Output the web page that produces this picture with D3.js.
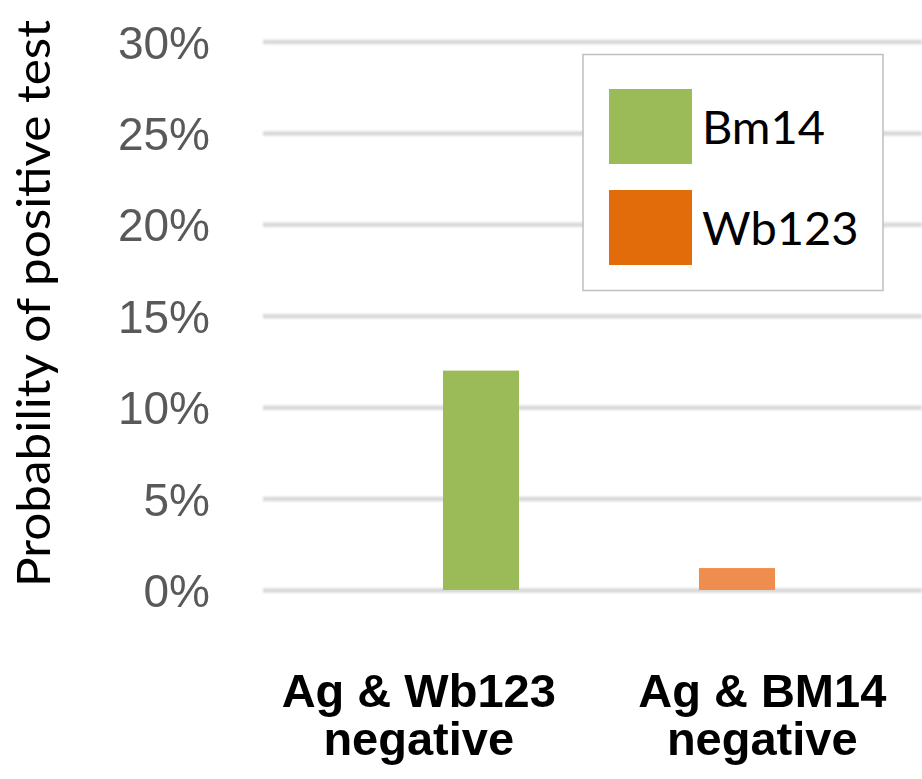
<!DOCTYPE html>
<html>
<head>
<meta charset="utf-8">
<script src="https://cdn.jsdelivr.net/npm/d3@7"></script>
<style>
  html, body { margin: 0; padding: 0; background: #ffffff; }
  svg { display: block; }
</style>
</head>
<body>
<svg id="chart" width="922" height="779"></svg>
<script>
// Categories (two-line labels) and series values
const categories = ["Ag & Wb123 negative", "Ag & BM14 negative"];
const categoryLines = [["Ag & Wb123", "negative"], ["Ag & BM14", "negative"]];
const seriesNames = ["Bm14", "Wb123"];
const bm14Values = [0.12, 0];
const wb123Values = [0, 0.012];
const yTicks = [0, 0.05, 0.10, 0.15, 0.20, 0.25, 0.30];
const yTitle = "Probability of positive test";

const legendColors = ["#9BBB59", "#E36C0A"];
const barColors = ["#9BBB59", "#EF8D4E"];

const svg = d3.select("#chart");
const plotLeft = 263, plotRight = 922;

const y = d3.scaleLinear().domain([0, 0.30]).range([590, 41.5]);

// Bar slots per category
const xBar = d3.scaleBand().domain(categories).range([353, 865])
  .paddingInner(0.703).paddingOuter(0.3515);
// Category label positions
const xLabel = d3.scaleBand().domain(categories).range([247, 934]).padding(0);

// soft gridlines
const defs = svg.append("defs");
defs.append("filter").attr("id", "soft")
  .attr("x", "-5%").attr("y", "-200%").attr("width", "110%").attr("height", "500%")
  .append("feGaussianBlur").attr("stdDeviation", 0.9);

const grid = svg.append("g")
  .attr("transform", `translate(${plotLeft},0)`)
  .attr("filter", "url(#soft)")
  .call(d3.axisLeft(y).tickValues(yTicks).tickSize(-(plotRight - plotLeft)).tickFormat(""));
grid.select(".domain").remove();
grid.selectAll(".tick line").attr("stroke", "#d9d9d9").attr("stroke-width", 4.5);

// y tick labels
const yAxis = svg.append("g")
  .attr("transform", `translate(${plotLeft},0)`)
  .call(d3.axisLeft(y).tickValues(yTicks).tickSize(0).tickPadding(53)
    .tickFormat(d3.format(".0%")));
yAxis.select(".domain").remove();
yAxis.selectAll(".tick text")
  .attr("font-family", "'Liberation Sans', Arial, sans-serif")
  .attr("font-size", 46)
  .attr("fill", "#595959")
  .attr("dy", "0.36em");

// bars
const barData = [];
categories.forEach((c, i) => {
  [bm14Values[i], wb123Values[i]].forEach((v, s) => {
    if (v > 0) barData.push({ category: c, series: s, value: v });
  });
});
svg.append("g").selectAll("rect").data(barData).join("rect")
  .attr("x", d => xBar(d.category))
  .attr("width", xBar.bandwidth())
  .attr("y", d => y(d.value))
  .attr("height", d => y(0) - y(d.value))
  .attr("fill", d => barColors[d.series]);

// category labels
const xAxis = svg.append("g")
  .attr("transform", "translate(0,590)")
  .call(d3.axisBottom(xLabel).tickSize(0).tickFormat(""));
xAxis.select(".domain").remove();
xAxis.selectAll(".tick").each(function(d, i) {
  const t = d3.select(this).append("text")
    .attr("text-anchor", "middle")
    .attr("font-family", "'Liberation Sans', Arial, sans-serif")
    .attr("font-weight", "bold")
    .attr("font-size", 47)
    .attr("fill", "#000");
  categoryLines[i].forEach((line, k) => {
    t.append("tspan").attr("x", 0).attr("y", 117 + k * 48).text(line);
  });
});

// y axis title
svg.append("text")
  .attr("transform", "translate(50,303.5) rotate(-90)")
  .attr("text-anchor", "middle")
  .attr("font-family", "Lato, 'Open Sans', sans-serif")
  .attr("font-size", 47)
  .attr("fill", "#000")
  .attr("textLength", 567)
  .attr("lengthAdjust", "spacingAndGlyphs")
  .text(yTitle);

// legend
const legend = svg.append("g");
legend.append("rect")
  .attr("x", 583).attr("y", 54.5).attr("width", 300).attr("height", 236)
  .attr("fill", "#fff").attr("stroke", "#bfbfbf").attr("stroke-width", 1.5);
const item = legend.selectAll("g.item").data(seriesNames).join("g")
  .attr("class", "item")
  .attr("transform", (d, i) => `translate(609,${89 + i * 101})`);
item.append("rect")
  .attr("width", 83).attr("height", 75)
  .attr("fill", (d, i) => legendColors[i]);
item.append("text")
  .attr("x", 93).attr("y", 55)
  .attr("font-family", "Lato, 'Open Sans', sans-serif")
  .attr("font-size", 47)
  .attr("fill", "#000")
  .text(d => d);
</script>
</body>
</html>
